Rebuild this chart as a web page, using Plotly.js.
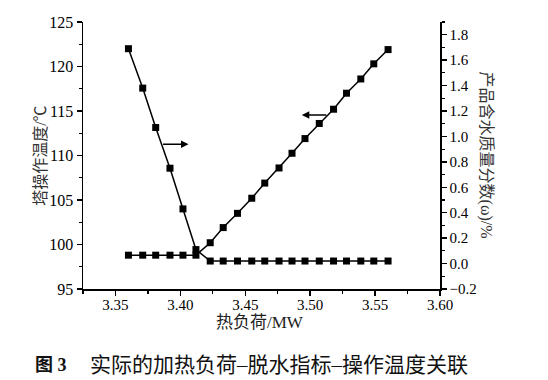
<!DOCTYPE html>
<html><head><meta charset="utf-8">
<script src="https://cdn.plot.ly/plotly-3.0.1.min.js"></script>
<style>html,body{margin:0;padding:0;background:#fff}#chart{width:548px;height:380px}</style>
</head><body><div id="chart"></div>
<script>
// 热负荷 / MW
const heatLoad = [3.360, 3.371, 3.381, 3.392, 3.402, 3.412, 3.423, 3.433, 3.444, 3.455,
                  3.465, 3.476, 3.486, 3.496, 3.507, 3.518, 3.528, 3.539, 3.549, 3.560];
// 塔操作温度 / ℃ (left axis)
const towerTemp = [98.8, 98.8, 98.8, 98.8, 98.8, 98.8, 100.2, 101.9, 103.5, 105.2,
                   106.9, 108.6, 110.25, 111.9, 113.6, 115.2, 117.0, 118.6, 120.3, 121.9];
// 产品含水质量分数 / % (right axis)
const waterFrac = [1.69, 1.38, 1.07, 0.75, 0.43, 0.11, 0.02, 0.02, 0.02, 0.02,
                   0.02, 0.02, 0.02, 0.02, 0.02, 0.02, 0.02, 0.02, 0.02, 0.02];
const xTicks = [3.35, 3.40, 3.45, 3.50, 3.55, 3.60];
const yLeftTicks = [95, 100, 105, 110, 115, 120, 125];
const yRightTicks = [-0.2, 0.0, 0.2, 0.4, 0.6, 0.8, 1.0, 1.2, 1.4, 1.6, 1.8];

const serif = "'Liberation Serif', 'Times New Roman', Tinos, serif";
const cjk = "'Liberation Serif', 'Noto Sans CJK SC', serif";

const common = {mode: 'lines+markers', line: {color: '#000', width: 1.5},
  marker: {symbol: 'square', size: 7, color: '#000'}, showlegend: false, hoverinfo: 'skip'};

const traces = [
  Object.assign({x: heatLoad, y: towerTemp, xaxis: 'x', yaxis: 'y'}, common),
  Object.assign({x: heatLoad, y: waterFrac, xaxis: 'x', yaxis: 'y2'}, common)
];

const tickFont = {family: serif, size: 15, color: '#000'};
const layout = {
  width: 548, height: 380,
  margin: {l: 83, r: 108, t: 22, b: 91},
  paper_bgcolor: '#fff', plot_bgcolor: '#fff',
  xaxis: {range: [3.325, 3.60], tickvals: xTicks, tickformat: '.2f', ticks: 'outside',
    ticklen: 5, tickwidth: 1.5, tickcolor: '#000', showline: true, linewidth: 1.5, linecolor: '#000',
    showgrid: false, zeroline: false, tickfont: tickFont, ticklabelstandoff: -4,
    minor: {dtick: 0.025, tick0: 3.325, ticks: 'outside', ticklen: 3, tickwidth: 1.2, tickcolor: '#000'}},
  xaxis2: {overlaying: 'x', side: 'top', range: [3.325, 3.60], tickvals: xTicks, ticks: 'inside',
    ticklen: 5, tickwidth: 1.5, tickcolor: '#000', showline: true, linewidth: 1.5, linecolor: '#000',
    showgrid: false, zeroline: false, showticklabels: false,
    minor: {dtick: 0.025, tick0: 3.325, ticks: 'inside', ticklen: 3, tickwidth: 1.2, tickcolor: '#000'}},
  yaxis: {range: [95, 125], tickvals: yLeftTicks, ticks: 'outside', ticklen: 5, tickwidth: 1.5,
    tickcolor: '#000', showline: true, linewidth: 1.5, linecolor: '#000', showgrid: false,
    zeroline: false, tickfont: Object.assign({}, tickFont, {size: 16}),
    minor: {dtick: 2.5, tick0: 95, ticks: 'outside', ticklen: 3, tickwidth: 1.2, tickcolor: '#000'}},
  yaxis2: {overlaying: 'y', side: 'right', range: [-0.2, 1.9], tickvals: yRightTicks, tickformat: '.1f',
    ticks: 'outside', ticklen: 5, tickwidth: 1.5, tickcolor: '#000', showline: true, linewidth: 1.5,
    linecolor: '#000', showgrid: false, zeroline: false, tickfont: tickFont,
    minor: {dtick: 0.1, tick0: -0.2, ticks: 'outside', ticklen: 3, tickwidth: 1.2, tickcolor: '#000'}},
  annotations: [
    {text: '塔操作温度/℃', xref: 'paper', yref: 'paper', x: -0.1195, y: 0.5, textangle: -90,
     showarrow: false, xanchor: 'center', yanchor: 'middle', font: {family: cjk, size: 16, color: '#333'}},
    {text: '产品含水质量分数(ω)/%', xref: 'paper', yref: 'paper', x: 1.1315, y: 0.5, textangle: 90,
     showarrow: false, xanchor: 'center', yanchor: 'middle', font: {family: cjk, size: 16, color: '#333'}},
    {text: '热负荷/MW', xref: 'paper', yref: 'paper', x: 0.496, y: -0.124,
     showarrow: false, xanchor: 'center', yanchor: 'middle', font: {family: cjk, size: 17, color: '#222'}},
    {text: '<b>图 3</b>', xref: 'paper', yref: 'paper', x: -0.139, y: -0.283,
     showarrow: false, xanchor: 'left', yanchor: 'middle', font: {family: cjk, size: 18, color: '#111'}},
    {text: '实际的加热负荷–脱水指标–操作温度关联', xref: 'paper', yref: 'paper', x: 0.0148, y: -0.283,
     showarrow: false, xanchor: 'left', yanchor: 'middle', font: {family: cjk, size: 21, color: '#111'}},
    {text: '', xref: 'paper', yref: 'paper', x: 0.2956, y: 0.542, ax: -27, ay: 0,
     showarrow: true, arrowhead: 2, arrowsize: 1, arrowwidth: 1.5, arrowcolor: '#000'},
    {text: '', xref: 'paper', yref: 'paper', x: 0.613, y: 0.652, ax: 26, ay: 0,
     showarrow: true, arrowhead: 2, arrowsize: 1, arrowwidth: 1.5, arrowcolor: '#000'}
  ]
};
Plotly.newPlot('chart', traces, layout, {displayModeBar: false, staticPlot: true});
</script>
</body></html>
